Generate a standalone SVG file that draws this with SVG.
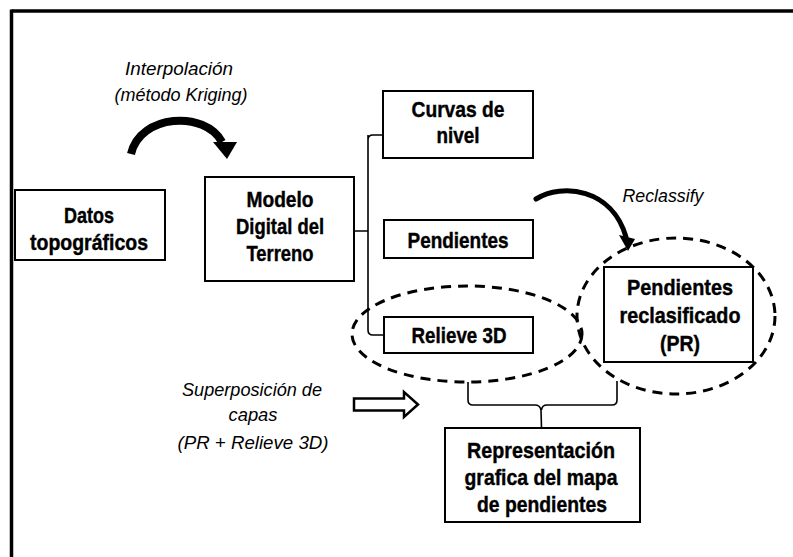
<svg xmlns="http://www.w3.org/2000/svg" width="793" height="557" viewBox="0 0 793 557">
<style>
  .box { fill: #fff; stroke: #000; stroke-width: 2; }
  .b { font-family: "Liberation Sans", Arial, sans-serif; font-weight: bold; font-size: 21.5px; fill: #000; stroke: #000; stroke-width: 0.4; text-anchor: middle; }
  .i { font-family: "Liberation Sans", Arial, sans-serif; font-style: italic; font-size: 17.5px; fill: #000; text-anchor: middle; }
  .conn { fill: none; stroke: #000; stroke-width: 1.6; }
  .dash { fill: none; stroke: #000; stroke-width: 3; stroke-dasharray: 10 7; }
</style>
<rect width="793" height="557" fill="#fff"/>
<g id="frame">
  <line x1="11.5" y1="11" x2="793" y2="11" stroke="#000" stroke-width="3.5"/>
  <line x1="11.5" y1="9.5" x2="11.5" y2="557" stroke="#000" stroke-width="3.5"/>
</g>
<g id="connectors">
  <path class="conn" d="M354 231 H368 M368 140 Q368 135 373 135 H383 M368 135 V330 Q368 335 373 335 H384"/>
  <path class="conn" d="M468 382 V400 Q468 405 473 405 H535 Q540 405 541 410 L541.5 428 M541.5 410 Q542 405 547 405 H612 Q617 405 617 400 V381"/>
  <path d="M131 154 C 140 114, 205 110, 222 142" fill="none" stroke="#000" stroke-width="8"/>
  <polygon points="213,142 237,142 227,159" fill="#000"/>
  <path d="M536 199 C 562 183, 612 188, 626 237" fill="none" stroke="#000" stroke-width="5" stroke-linecap="round"/>
  <polygon points="619,235 635,239 628,251" fill="#000"/>
  <polygon points="354,398.5 404,398.5 404,392 418,404.5 404,417 404,410.5 354,410.5" fill="#fff" stroke="#000" stroke-width="2.5"/>
  <ellipse class="dash" cx="467" cy="334" rx="115" ry="48"/>
  <ellipse class="dash" cx="676" cy="316" rx="99" ry="78"/>
</g>
<g id="datos">
  <rect class="box" x="15" y="190" width="150" height="70"/>
  <text class="b" x="89" y="223" textLength="50" lengthAdjust="spacingAndGlyphs">Datos</text>
  <text class="b" x="89" y="250" textLength="118" lengthAdjust="spacingAndGlyphs">topográficos</text>
</g>
<g id="modelo">
  <rect class="box" x="205" y="177" width="149" height="104"/>
  <text class="b" x="280" y="207" textLength="67" lengthAdjust="spacingAndGlyphs">Modelo</text>
  <text class="b" x="280" y="234" textLength="88" lengthAdjust="spacingAndGlyphs">Digital del</text>
  <text class="b" x="280" y="261" textLength="67" lengthAdjust="spacingAndGlyphs">Terreno</text>
</g>
<g id="curvas">
  <rect class="box" x="383" y="91" width="150" height="67"/>
  <text class="b" x="458" y="117" textLength="93" lengthAdjust="spacingAndGlyphs">Curvas de</text>
  <text class="b" x="458" y="143" textLength="43" lengthAdjust="spacingAndGlyphs">nivel</text>
</g>
<g id="pendientes">
  <rect class="box" x="384" y="220" width="149" height="38"/>
  <text class="b" x="458" y="248" textLength="101" lengthAdjust="spacingAndGlyphs">Pendientes</text>
</g>
<g id="relieve">
  <rect class="box" x="384" y="317" width="149" height="36"/>
  <text class="b" x="459" y="343" textLength="95" lengthAdjust="spacingAndGlyphs">Relieve 3D</text>
</g>
<g id="pr">
  <rect class="box" x="604" y="267" width="149" height="95"/>
  <text class="b" x="680" y="295" textLength="106" lengthAdjust="spacingAndGlyphs">Pendientes</text>
  <text class="b" x="680" y="323" textLength="121" lengthAdjust="spacingAndGlyphs">reclasificado</text>
  <text class="b" x="680" y="351" textLength="40" lengthAdjust="spacingAndGlyphs">(PR)</text>
</g>
<g id="representacion">
  <rect class="box" x="445" y="428" width="195" height="94"/>
  <text class="b" x="541" y="458" textLength="148" lengthAdjust="spacingAndGlyphs">Representación</text>
  <text class="b" x="541" y="485" textLength="153" lengthAdjust="spacingAndGlyphs">grafica del mapa</text>
  <text class="b" x="542" y="512" textLength="130" lengthAdjust="spacingAndGlyphs">de pendientes</text>
</g>
<g id="labels">
  <text class="i" x="179" y="75" textLength="108" lengthAdjust="spacingAndGlyphs">Interpolación</text>
  <text class="i" x="181" y="101" textLength="133" lengthAdjust="spacingAndGlyphs">(método Kriging)</text>
  <text class="i" x="663" y="202" textLength="81" lengthAdjust="spacingAndGlyphs">Reclassify</text>
  <text class="i" x="252" y="396" textLength="140" lengthAdjust="spacingAndGlyphs">Superposición de</text>
  <text class="i" x="253" y="421" textLength="49" lengthAdjust="spacingAndGlyphs">capas</text>
  <text class="i" x="253" y="449" textLength="151" lengthAdjust="spacingAndGlyphs">(PR + Relieve 3D)</text>
</g>
</svg>
